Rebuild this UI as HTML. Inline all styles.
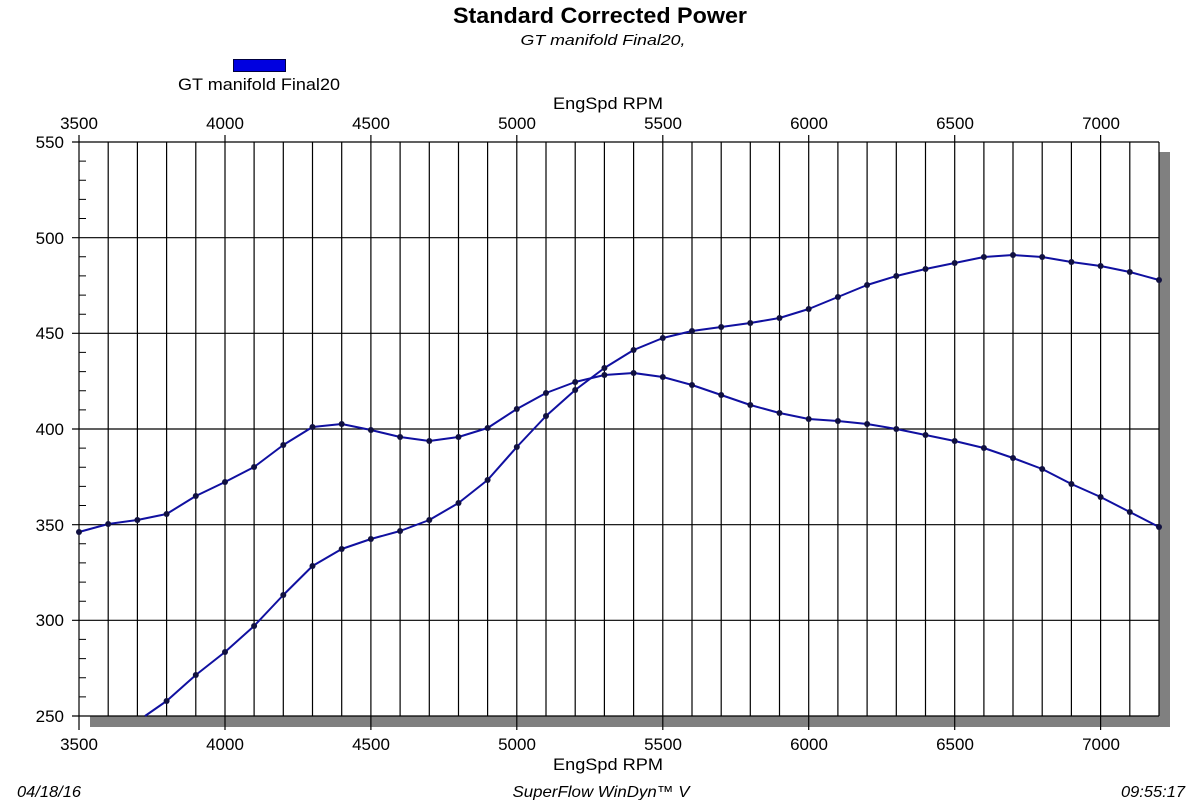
<!DOCTYPE html>
<html><head><meta charset="utf-8"><style>
html,body{margin:0;padding:0;background:#fff;}
svg{display:block;font-family:"Liberation Sans",Arial,sans-serif;}
</style></head><body>
<svg width="1200" height="800" viewBox="0 0 1200 800">
<rect x="0" y="0" width="1200" height="800" fill="#fff"/>
<text x="600" y="23" font-size="22" font-weight="bold" text-anchor="middle" textLength="294" lengthAdjust="spacingAndGlyphs">Standard Corrected Power</text>
<text x="603" y="45" font-size="15" font-style="italic" text-anchor="middle" textLength="165" lengthAdjust="spacingAndGlyphs">GT manifold Final20,</text>
<rect x="233.5" y="59.5" width="52" height="12" fill="#0000e0" stroke="#000040"/>
<text x="259" y="90" font-size="17" text-anchor="middle" textLength="162" lengthAdjust="spacingAndGlyphs">GT manifold Final20</text>
<text x="608" y="109" font-size="17" text-anchor="middle" textLength="110" lengthAdjust="spacingAndGlyphs">EngSpd RPM</text>
<rect x="1159" y="152" width="11" height="575" fill="#808080"/>
<rect x="90" y="716" width="1080" height="11" fill="#808080"/>
<rect x="79" y="142" width="1080" height="574" fill="#fff"/>
<g stroke="#000" stroke-width="1.2" fill="none">
<line x1="108.2" y1="142" x2="108.2" y2="716"/><line x1="137.4" y1="142" x2="137.4" y2="716"/><line x1="166.6" y1="142" x2="166.6" y2="716"/><line x1="195.8" y1="142" x2="195.8" y2="716"/><line x1="225" y1="135" x2="225" y2="730"/><line x1="254.1" y1="142" x2="254.1" y2="716"/><line x1="283.3" y1="142" x2="283.3" y2="716"/><line x1="312.5" y1="142" x2="312.5" y2="716"/><line x1="341.7" y1="142" x2="341.7" y2="716"/><line x1="370.9" y1="135" x2="370.9" y2="730"/><line x1="400.1" y1="142" x2="400.1" y2="716"/><line x1="429.3" y1="142" x2="429.3" y2="716"/><line x1="458.5" y1="142" x2="458.5" y2="716"/><line x1="487.6" y1="142" x2="487.6" y2="716"/><line x1="516.8" y1="135" x2="516.8" y2="730"/><line x1="546" y1="142" x2="546" y2="716"/><line x1="575.2" y1="142" x2="575.2" y2="716"/><line x1="604.4" y1="142" x2="604.4" y2="716"/><line x1="633.6" y1="142" x2="633.6" y2="716"/><line x1="662.8" y1="135" x2="662.8" y2="730"/><line x1="692" y1="142" x2="692" y2="716"/><line x1="721.2" y1="142" x2="721.2" y2="716"/><line x1="750.3" y1="142" x2="750.3" y2="716"/><line x1="779.5" y1="142" x2="779.5" y2="716"/><line x1="808.7" y1="135" x2="808.7" y2="730"/><line x1="837.9" y1="142" x2="837.9" y2="716"/><line x1="867.1" y1="142" x2="867.1" y2="716"/><line x1="896.3" y1="142" x2="896.3" y2="716"/><line x1="925.5" y1="142" x2="925.5" y2="716"/><line x1="954.7" y1="135" x2="954.7" y2="730"/><line x1="983.9" y1="142" x2="983.9" y2="716"/><line x1="1013" y1="142" x2="1013" y2="716"/><line x1="1042.2" y1="142" x2="1042.2" y2="716"/><line x1="1071.4" y1="142" x2="1071.4" y2="716"/><line x1="1100.6" y1="135" x2="1100.6" y2="730"/><line x1="1129.8" y1="142" x2="1129.8" y2="716"/>
<line x1="72" y1="142" x2="1159" y2="142"/><line x1="72" y1="237.7" x2="1159" y2="237.7"/><line x1="72" y1="333.3" x2="1159" y2="333.3"/><line x1="72" y1="429" x2="1159" y2="429"/><line x1="72" y1="524.7" x2="1159" y2="524.7"/><line x1="72" y1="620.3" x2="1159" y2="620.3"/><line x1="72" y1="716" x2="1159" y2="716"/>
<line x1="79" y1="135" x2="79" y2="730"/><line x1="1159" y1="142" x2="1159" y2="716"/>
</g>
<g stroke="#000" stroke-width="1">
<path d="M79 161.1h7M79 180.3h7M79 199.4h7M79 218.5h7M79 256.8h7M79 275.9h7M79 295.1h7M79 314.2h7M79 352.4h7M79 371.6h7M79 390.7h7M79 409.9h7M79 448.1h7M79 467.3h7M79 486.4h7M79 505.5h7M79 543.8h7M79 562.9h7M79 582.1h7M79 601.2h7M79 639.4h7M79 658.6h7M79 677.7h7M79 696.9h7"/>
</g>
<g font-size="17" text-anchor="middle">
<text x="79" y="129">3500</text><text x="225" y="129">4000</text><text x="371" y="129">4500</text><text x="517" y="129">5000</text><text x="663" y="129">5500</text><text x="809" y="129">6000</text><text x="955" y="129">6500</text><text x="1101" y="129">7000</text>
<text x="79" y="750">3500</text><text x="225" y="750">4000</text><text x="371" y="750">4500</text><text x="517" y="750">5000</text><text x="663" y="750">5500</text><text x="809" y="750">6000</text><text x="955" y="750">6500</text><text x="1101" y="750">7000</text>
</g>
<g font-size="17" text-anchor="end">
<text x="64" y="148">550</text><text x="64" y="244">500</text><text x="64" y="339">450</text><text x="64" y="435">400</text><text x="64" y="531">350</text><text x="64" y="626">300</text><text x="64" y="722">250</text>
</g>
<text x="608" y="770" font-size="17" text-anchor="middle" textLength="110" lengthAdjust="spacingAndGlyphs">EngSpd RPM</text>
<g font-size="16" font-style="italic">
<text x="17" y="797" textLength="64" lengthAdjust="spacingAndGlyphs">04/18/16</text>
<text x="601" y="797" text-anchor="middle" textLength="177" lengthAdjust="spacingAndGlyphs">SuperFlow WinDyn™  V</text>
<text x="1185" y="797" text-anchor="end" textLength="64" lengthAdjust="spacingAndGlyphs">09:55:17</text>
</g>
<g fill="none" stroke="#1010a0" stroke-width="2" stroke-linejoin="round">
<polyline points="145,716 166.6,701 195.8,675 225,652 254.1,626 283.3,595 312.5,566 341.7,549 370.9,539 400.1,531 429.3,520 458.5,503 487.6,480 516.8,447 546,416 575.2,390 604.4,368 633.6,350 662.8,338 692,331 721.2,327 750.3,323 779.5,318 808.7,309 837.9,297 867.1,285 896.3,276 925.5,269 954.7,263 983.9,257 1013,255 1042.2,257 1071.4,262 1100.6,266 1129.8,272 1159,280"/>
<polyline points="79,532 108.2,524 137.4,520 166.6,514 195.8,496 225,482 254.1,467 283.3,445 312.5,427 341.7,424 370.9,430 400.1,437 429.3,441 458.5,437 487.6,428 516.8,409 546,393 575.2,382 604.4,375 633.6,373 662.8,377 692,385 721.2,395 750.3,405 779.5,413 808.7,419 837.9,421 867.1,424 896.3,429 925.5,435 954.7,441 983.9,448 1013,458 1042.2,469 1071.4,484 1100.6,497 1129.8,512 1159,527"/>
</g>
<g fill="#101040">
<circle cx="166.6" cy="701" r="3"/><circle cx="195.8" cy="675" r="3"/><circle cx="225" cy="652" r="3"/><circle cx="254.1" cy="626" r="3"/><circle cx="283.3" cy="595" r="3"/><circle cx="312.5" cy="566" r="3"/><circle cx="341.7" cy="549" r="3"/><circle cx="370.9" cy="539" r="3"/><circle cx="400.1" cy="531" r="3"/><circle cx="429.3" cy="520" r="3"/><circle cx="458.5" cy="503" r="3"/><circle cx="487.6" cy="480" r="3"/><circle cx="516.8" cy="447" r="3"/><circle cx="546" cy="416" r="3"/><circle cx="575.2" cy="390" r="3"/><circle cx="604.4" cy="368" r="3"/><circle cx="633.6" cy="350" r="3"/><circle cx="662.8" cy="338" r="3"/><circle cx="692" cy="331" r="3"/><circle cx="721.2" cy="327" r="3"/><circle cx="750.3" cy="323" r="3"/><circle cx="779.5" cy="318" r="3"/><circle cx="808.7" cy="309" r="3"/><circle cx="837.9" cy="297" r="3"/><circle cx="867.1" cy="285" r="3"/><circle cx="896.3" cy="276" r="3"/><circle cx="925.5" cy="269" r="3"/><circle cx="954.7" cy="263" r="3"/><circle cx="983.9" cy="257" r="3"/><circle cx="1013" cy="255" r="3"/><circle cx="1042.2" cy="257" r="3"/><circle cx="1071.4" cy="262" r="3"/><circle cx="1100.6" cy="266" r="3"/><circle cx="1129.8" cy="272" r="3"/><circle cx="1159" cy="280" r="3"/>
<circle cx="79" cy="532" r="3"/><circle cx="108.2" cy="524" r="3"/><circle cx="137.4" cy="520" r="3"/><circle cx="166.6" cy="514" r="3"/><circle cx="195.8" cy="496" r="3"/><circle cx="225" cy="482" r="3"/><circle cx="254.1" cy="467" r="3"/><circle cx="283.3" cy="445" r="3"/><circle cx="312.5" cy="427" r="3"/><circle cx="341.7" cy="424" r="3"/><circle cx="370.9" cy="430" r="3"/><circle cx="400.1" cy="437" r="3"/><circle cx="429.3" cy="441" r="3"/><circle cx="458.5" cy="437" r="3"/><circle cx="487.6" cy="428" r="3"/><circle cx="516.8" cy="409" r="3"/><circle cx="546" cy="393" r="3"/><circle cx="575.2" cy="382" r="3"/><circle cx="604.4" cy="375" r="3"/><circle cx="633.6" cy="373" r="3"/><circle cx="662.8" cy="377" r="3"/><circle cx="692" cy="385" r="3"/><circle cx="721.2" cy="395" r="3"/><circle cx="750.3" cy="405" r="3"/><circle cx="779.5" cy="413" r="3"/><circle cx="808.7" cy="419" r="3"/><circle cx="837.9" cy="421" r="3"/><circle cx="867.1" cy="424" r="3"/><circle cx="896.3" cy="429" r="3"/><circle cx="925.5" cy="435" r="3"/><circle cx="954.7" cy="441" r="3"/><circle cx="983.9" cy="448" r="3"/><circle cx="1013" cy="458" r="3"/><circle cx="1042.2" cy="469" r="3"/><circle cx="1071.4" cy="484" r="3"/><circle cx="1100.6" cy="497" r="3"/><circle cx="1129.8" cy="512" r="3"/><circle cx="1159" cy="527" r="3"/>
</g>
</svg>
</body></html>
